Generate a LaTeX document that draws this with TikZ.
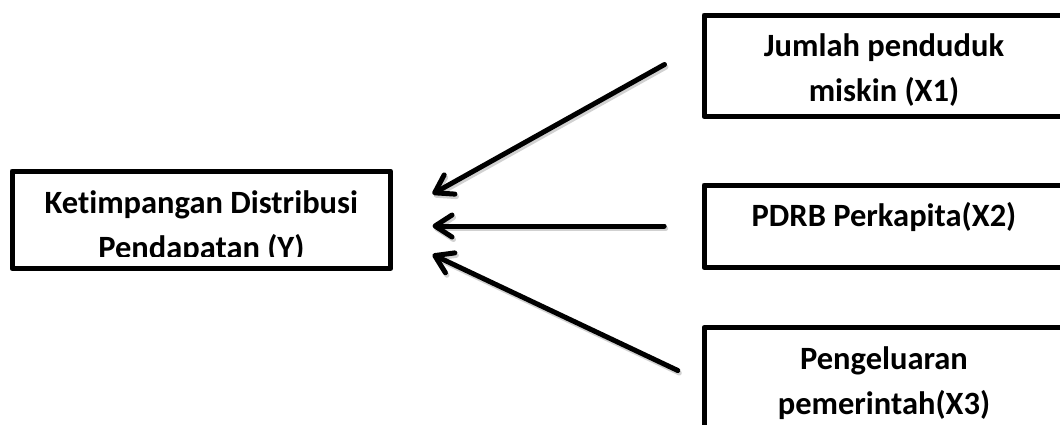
\documentclass[tikz,border=0pt]{standalone}
\usepackage{fontspec}
\setmainfont{Carlito}[RawFeature=-liga]
\usetikzlibrary{arrows.meta}
\begin{document}
\begin{tikzpicture}[x=1pt,y=-1pt,
  box/.style={draw,line width=5pt,line join=round,inner sep=0pt},
  lbl/.style={font=\fontsize{32.5}{45}\selectfont\bfseries,inner sep=0pt,anchor=base},
  link/.style={line width=5pt,line cap=round,
    -{Straight Barb[length=17pt,width=22pt,line cap=round,line join=round]}},
  linkshade/.style={link,draw=black!30,opacity=.6,
    transform canvas={shift={(1.5pt,-2.5pt)}}},
]
\useasboundingbox (0,0) rectangle (1060,424);

% frames
\node[box,minimum width=378.7pt,minimum height=97.5pt] (y)  at (201.35,219.75) {};
\node[box,minimum width=362pt,minimum height=101.5pt]  (x1) at (885,65.75) {};
\node[box,minimum width=362pt,minimum height=82.5pt]   (x2) at (885,226.25) {};
\node[box,minimum width=362pt,minimum height=102.5pt]  (x3) at (885,378.75) {};

% labels, the lower line of the left frame cut off at its margin
\begin{scope}
  \clip (14.5,173.5) rectangle (388.2,256.8);
  \node[lbl] (y1) at (201.35,213.3) {Ketimpangan Distribusi};
  \node[lbl] (y2) at (201.35,258.3) {Pendapatan (Y)};
\end{scope}
\node[lbl] (x1a) at (884,56.3)  {Jumlah penduduk};
\node[lbl] (x1b) at (884,101.7) {miskin (X1)};
\node[lbl] (x2a) at (884,226.3) {PDRB Perkapita(X2)};
\node[lbl] (x3a) at (884,369.3) {Pengeluaran};
\node[lbl] (x3b) at (884,414.8) {pemerintah(X3)};

% arrow ends
\coordinate (s1) at (664.5,64.5);
\coordinate (t1) at (432.5,194);
\coordinate (s2) at (664.2,226);
\coordinate (t2) at (432.5,226);
\coordinate (s3) at (677.8,370.5);
\coordinate (t3) at (432.5,254.5);

% soft shadows under the arrows
\draw[linkshade] (s1) -- (t1);
\draw[linkshade] (s2) -- (t2);
\draw[linkshade] (s3) -- (t3);

% arrows
\draw[link] (s1) -- (t1);
\draw[link] (s2) -- (t2);
\draw[link] (s3) -- (t3);
\end{tikzpicture}
\end{document}
